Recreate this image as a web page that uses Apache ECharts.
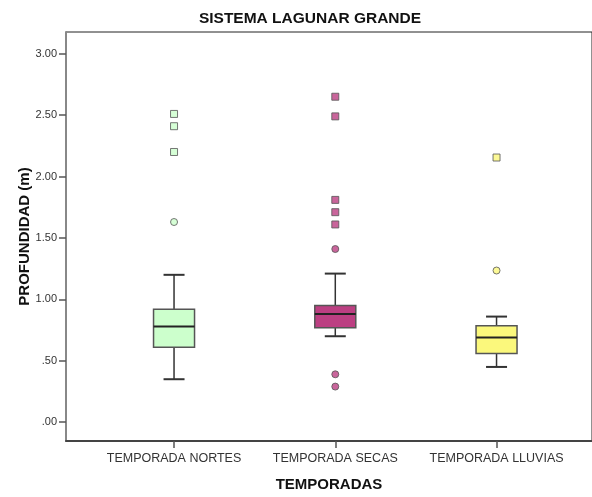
<!DOCTYPE html>
<html>
<head>
<meta charset="utf-8">
<script src="https://cdn.jsdelivr.net/npm/echarts@6/dist/echarts.min.js"></script>
<style>html,body{margin:0;padding:0;background:#fff}#c{width:592px;height:497px}</style>
</head>
<body>
<div id="c"></div>
<script>
// ---- data ----
const categories = ['TEMPORADA NORTES', 'TEMPORADA SECAS', 'TEMPORADA LLUVIAS'];
const whiskerLow  = [0.35, 0.70, 0.45];
const q1          = [0.61, 0.77, 0.56];
const median      = [0.78, 0.88, 0.69];
const q3          = [0.92, 0.95, 0.785];
const whiskerHigh = [1.20, 1.21, 0.86];
// outliers (circles) and extremes (squares), per category
const outliersNortes = [1.63];
const extremesNortes = [2.20, 2.41, 2.51];
const outliersSecas  = [1.41, 0.39, 0.29];
const extremesSecas  = [1.61, 1.71, 1.81, 2.49, 2.65];
const outliersLluvias = [1.235];
const extremesLluvias = [2.155];
const yTicks = [0, 0.5, 1.0, 1.5, 2.0, 2.5, 3.0];

const colors = ['#ccffcc', '#bc3f82', '#fbf87c'];
const outliers = [outliersNortes, outliersSecas, outliersLluvias];
const extremes = [extremesNortes, extremesSecas, extremesLluvias];

const boxData = categories.map((c, i) => [i + 1, whiskerLow[i], q1[i], median[i], q3[i], whiskerHigh[i]]);
function pts(groups) {
  const out = [];
  groups.forEach((g, i) => g.forEach(v => out.push({ value: [i + 1, v], itemStyle: { color: colors[i] } })));
  return out;
}

const chart = echarts.init(document.getElementById('c'), null, { renderer: 'canvas' });
const BOX_HALF = 20.5, CAP_HALF = 10.5;
chart.setOption({
  animation: false,
  backgroundColor: '#fff',
  title: {
    text: 'SISTEMA LAGUNAR GRANDE', left: 305, top: 6, textAlign: 'center',
    textStyle: { fontFamily: 'Liberation Sans', fontSize: 15.5, fontWeight: 'bold', color: '#111' }
  },
  grid: { left: 66, top: 32, right: -2, bottom: 51, show: true, borderColor: '#222', borderWidth: 1, backgroundColor: '#fff' },
  xAxis: {
    type: 'value', min: 0.33, max: 3.592,
    splitLine: { show: false },
    axisLine: { show: true, onZero: false, lineStyle: { color: '#444', width: 2 } },
    axisTick: { show: true, customValues: [1, 2, 3], length: 7, lineStyle: { color: '#555', width: 1.5 } },
    axisLabel: {
      customValues: [1, 2, 3], margin: 11,
      formatter: v => categories[Math.round(v) - 1] || '',
      fontFamily: 'Liberation Sans', fontSize: 12.5, color: '#333'
    },
    name: 'TEMPORADAS', nameLocation: 'middle', nameGap: 36, nameMoveOverlap: false,
    nameTextStyle: { fontFamily: 'Liberation Sans', fontSize: 15, fontWeight: 'bold', color: '#111' }
  },
  yAxis: {
    type: 'value', min: -0.153, max: 3.177,
    splitLine: { show: false },
    axisLine: { show: true, onZero: false, lineStyle: { color: '#888', width: 2 } },
    axisTick: { show: true, customValues: yTicks, length: 7, lineStyle: { color: '#555', width: 1.5 } },
    axisLabel: {
      customValues: yTicks, margin: 9,
      formatter: v => { const s = v.toFixed(2); return s.startsWith('0') ? s.slice(1) : s; },
      fontFamily: 'Liberation Sans', fontSize: 11, color: '#333'
    },
    name: 'PROFUNDIDAD (m)', nameLocation: 'middle', nameGap: 34, nameMoveOverlap: false,
    nameTextStyle: { fontFamily: 'Liberation Sans', fontSize: 15, fontWeight: 'bold', color: '#111' }
  },
  series: [
    {
      type: 'custom',
      data: boxData,
      encode: { x: 0, y: [1, 2, 3, 4, 5] },
      renderItem: function (params, api) {
        const x = api.value(0);
        const pLow = api.coord([x, api.value(1)]);
        const pQ1 = api.coord([x, api.value(2)]);
        const pMed = api.coord([x, api.value(3)]);
        const pQ3 = api.coord([x, api.value(4)]);
        const pHigh = api.coord([x, api.value(5)]);
        const cx = pMed[0];
        const ls = { stroke: '#333', lineWidth: 1.5 };
        return {
          type: 'group',
          children: [
            { type: 'line', shape: { x1: cx, y1: pLow[1], x2: cx, y2: pQ1[1] }, style: ls },
            { type: 'line', shape: { x1: cx, y1: pQ3[1], x2: cx, y2: pHigh[1] }, style: ls },
            { type: 'line', shape: { x1: cx - CAP_HALF, y1: pLow[1], x2: cx + CAP_HALF, y2: pLow[1] }, style: { stroke: '#333', lineWidth: 2 } },
            { type: 'line', shape: { x1: cx - CAP_HALF, y1: pHigh[1], x2: cx + CAP_HALF, y2: pHigh[1] }, style: { stroke: '#333', lineWidth: 2 } },
            { type: 'rect', shape: { x: cx - BOX_HALF, y: pQ3[1], width: 2 * BOX_HALF, height: pQ1[1] - pQ3[1] },
              style: { fill: colors[params.dataIndex], stroke: '#555', lineWidth: 1.5 } },
            { type: 'line', shape: { x1: cx - BOX_HALF, y1: pMed[1], x2: cx + BOX_HALF, y2: pMed[1] }, style: { stroke: '#222', lineWidth: 2 } }
          ]
        };
      },
      z: 2
    },
    {
      type: 'scatter', symbol: 'circle', symbolSize: 7,
      data: pts(outliers),
      itemStyle: { borderColor: '#555', borderWidth: 1 }, z: 3
    },
    {
      type: 'scatter', symbol: 'rect', symbolSize: 7,
      data: pts(extremes),
      itemStyle: { borderColor: '#555', borderWidth: 1 }, z: 3
    }
  ]
});
</script>
</body>
</html>
